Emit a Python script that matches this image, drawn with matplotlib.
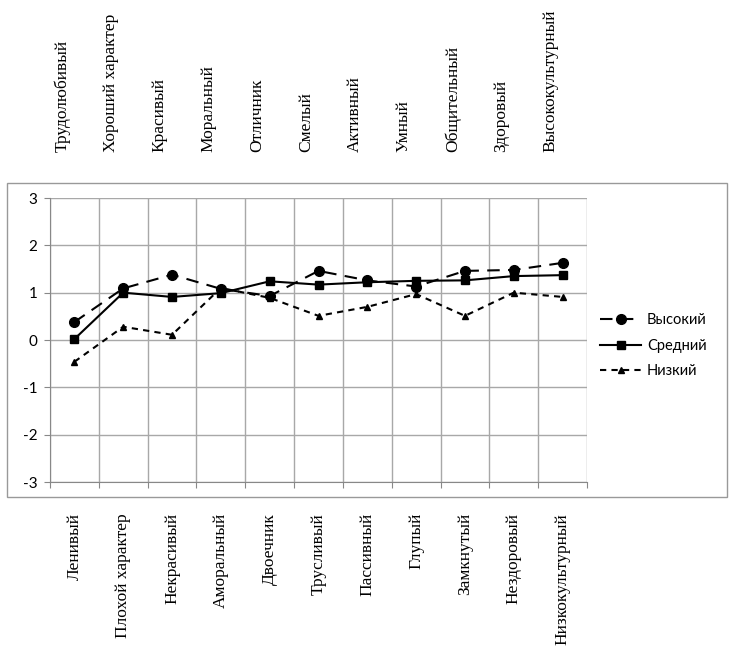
import matplotlib.pyplot as plt
from matplotlib.patches import Rectangle

top_labels = ['Трудолюбивый', 'Хороший характер', 'Красивый', 'Моральный', 'Отличник',
              'Смелый', 'Активный', 'Умный', 'Общительный', 'Здоровый', 'Высококультурный']
bottom_labels = ['Ленивый', 'Плохой характер', 'Некрасивый', 'Аморальный', 'Двоечник',
                 'Трусливый', 'Пассивный', 'Глупый', 'Замкнутый', 'Нездоровый', 'Низкокультурный']

high = [0.38, 1.09, 1.38, 1.08, 0.93, 1.46, 1.26, 1.13, 1.46, 1.48, 1.63]
mid = [0.02, 1.0, 0.91, 0.99, 1.24, 1.17, 1.22, 1.25, 1.26, 1.35, 1.37]
low = [-0.46, 0.28, 0.11, 1.1, 0.89, 0.51, 0.70, 0.97, 0.51, 1.0, 0.91]

fig = plt.figure(figsize=(7.32, 6.61), dpi=100)
ax = fig.add_axes([50 / 732, 1 - 482 / 661, 537 / 732, 284 / 661])

x = list(range(len(top_labels)))
ax.plot(x, high, color='black', lw=1.5, dashes=(6, 4), marker='o', ms=7, label='Высокий')
ax.plot(x, mid, color='black', lw=1.5, ls='-', marker='s', ms=6, label='Средний')
ax.plot(x, low, color='black', lw=1.5, dashes=(3, 2.5), marker='^', ms=5, label='Низкий')

ax.set_xlim(-0.5, len(x) - 0.5)
ax.set_ylim(-3, 3)
ax.set_yticks(range(-3, 4))
ax.set_yticklabels([str(v) for v in range(-3, 4)], fontfamily='Lato', fontsize=11)
ax.set_xticks([i - 0.5 for i in range(len(x) + 1)])
ax.set_xticklabels([])
ax.tick_params(axis='both', length=4, color='#888888')
ax.tick_params(axis='y', pad=5)
ax.grid(True, color='#a8a8a8', lw=1.0)
ax.set_axisbelow(True)
for s in ax.spines.values():
    s.set_visible(False)
ax.spines['left'].set_visible(True)
ax.spines['left'].set_color('#888888')
ax.spines['bottom'].set_visible(True)
ax.spines['bottom'].set_color('#888888')

tr = ax.get_xaxis_transform()
for i, t in enumerate(top_labels):
    ax.text(i - 0.25, 1.162, t, transform=tr, rotation=90, ha='center', va='bottom',
            fontfamily='Liberation Serif', fontsize=12.5)
for i, t in enumerate(bottom_labels):
    ax.text(i, -0.109, t, transform=tr, rotation=90, ha='center', va='top',
            fontfamily='Liberation Serif', fontsize=12.5)

leg = ax.legend(loc='center left', bbox_to_anchor=(1.0, 0.48), frameon=False,
                prop={'family': 'Lato', 'size': 10.5}, handlelength=2.8, labelspacing=0.8,
                handletextpad=0.4)

fig.patches.append(Rectangle((7 / 732, 1 - 497 / 661), 720 / 732, 314 / 661,
                             transform=fig.transFigure, fill=False, ec='#999999', lw=1))

fig.savefig('out.png', dpi=100)
